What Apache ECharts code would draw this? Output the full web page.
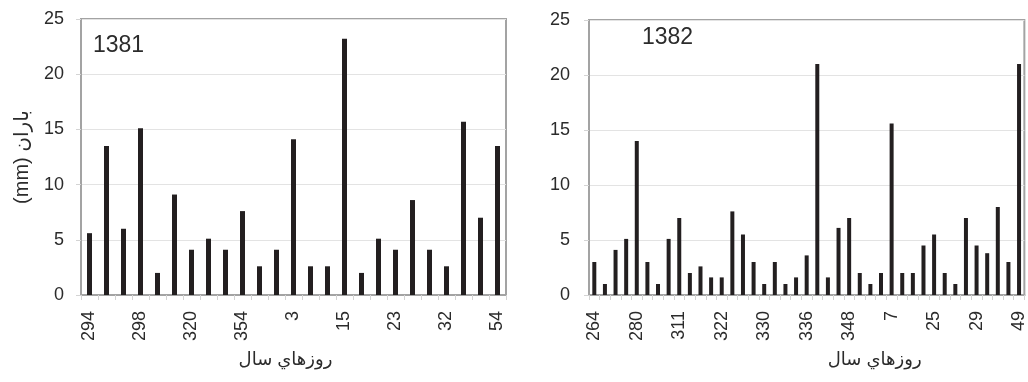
<!DOCTYPE html>
<html>
<head>
<meta charset="utf-8">
<script src="https://cdn.jsdelivr.net/npm/echarts@6/dist/echarts.min.js"></script>
<style>
  html, body { margin: 0; padding: 0; background: #fff; }
  #chart { width: 1028px; height: 382px; }
</style>
</head>
<body>
<div id="chart" dir="rtl"></div>
<script>
// rainfall per rainy day, year 1381
const days1381 = ['294', '', '', '298', '', '', '320', '', '', '354', '', '', '3', '', '', '15', '', '', '23', '', '', '32', '', '', '54'];
const rain1381 = [5.6, 13.5, 6, 15.1, 2, 9.1, 4.1, 5.1, 4.1, 7.6, 2.6, 4.1, 14.1, 2.6, 2.6, 23.2, 2, 5.1, 4.1, 8.6, 4.1, 2.6, 15.7, 7, 13.5];

// year 1382
const days1382 = ['264', '', '', '', '280', '', '', '', '311', '', '', '', '322', '', '', '', '330', '', '', '', '336', '', '', '', '348', '', '', '', '7', '', '', '', '25', '', '', '', '29', '', '', '', '49'];
const rain1382 = [3, 1, 4.1, 5.1, 14, 3, 1, 5.1, 7, 2, 2.6, 1.6, 1.6, 7.6, 5.5, 3, 1, 3, 1, 1.6, 3.6, 21, 1.6, 6.1, 7, 2, 1, 2, 15.6, 2, 2, 4.5, 5.5, 2, 1, 7, 4.5, 3.8, 8, 3, 21];

const yTicks = { min: 0, max: 25, interval: 5 };

const FONT = '"Liberation Sans", "DejaVu Sans", sans-serif';
const TEXT = '#2b2b2b';
const AXIS = '#a3a3a3';
const LIGHT = '#d4d4d4';
const xName = 'روزهاي سال';

const chart = echarts.init(document.getElementById('chart'));

function xAxisFor(idx, labels, shift) {
  return {
    type: 'category',
    gridIndex: idx,
    data: labels,
    boundaryGap: true,
    name: xName,
    nameLocation: 'middle',
    nameGap: 56,
    nameTextStyle: {
      fontFamily: FONT, fontSize: 18, color: TEXT,
      padding: shift > 0 ? [0, 0, 0, shift * 2] : [0, -shift * 2, 0, 0]
    },
    axisLine: { lineStyle: { color: AXIS, width: 2 } },
    axisTick: { show: true, interval: 0, length: 5, lineStyle: { color: LIGHT } },
    axisLabel: { interval: 0, rotate: 90, margin: 16, fontFamily: FONT, fontSize: 18, color: TEXT }
  };
}

function yAxisFor(idx, withName, labelGap) {
  return {
    type: 'value',
    gridIndex: idx,
    min: yTicks.min,
    max: yTicks.max,
    interval: yTicks.interval,
    name: withName ? 'باران (mm)' : '',
    nameLocation: 'middle',
    nameRotate: 90,
    nameGap: 49,
    nameTextStyle: { fontFamily: FONT, fontSize: 20, color: TEXT },
    axisLine: { show: true, lineStyle: { color: AXIS, width: 2 } },
    axisTick: { show: true, length: 5, lineStyle: { color: LIGHT } },
    axisLabel: { margin: labelGap, fontFamily: FONT, fontSize: 18, color: TEXT },
    splitLine: { lineStyle: { color: '#e3e3e3', width: 1 } }
  };
}

chart.setOption({
  animation: false,
  backgroundColor: '#fff',
  title: [
    { text: '1381', left: 88, top: 29, textStyle: { fontFamily: FONT, fontSize: 23, fontWeight: 'normal', color: TEXT } },
    { text: '1382', left: 637, top: 21, textStyle: { fontFamily: FONT, fontSize: 23, fontWeight: 'normal', color: TEXT } }
  ],
  grid: [
    { left: 81, top: 19, width: 425, height: 276, show: true, borderColor: AXIS, borderWidth: 2 },
    { left: 589, top: 20, width: 439, height: 275, show: true, borderColor: AXIS, borderWidth: 2 }
  ],
  xAxis: [xAxisFor(0, days1381, -8), xAxisFor(1, days1382, 68)],
  yAxis: [yAxisFor(0, true, 17), yAxisFor(1, false, 19)],
  series: [
    { type: 'bar', xAxisIndex: 0, yAxisIndex: 0, data: rain1381, barWidth: 5, itemStyle: { color: '#231f20' } },
    { type: 'bar', xAxisIndex: 1, yAxisIndex: 1, data: rain1382, barWidth: 4, itemStyle: { color: '#231f20' } }
  ]
});
</script>
</body>
</html>
